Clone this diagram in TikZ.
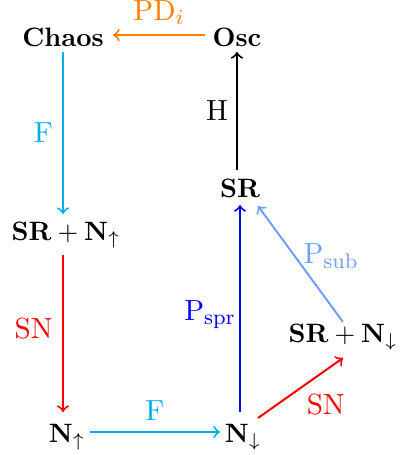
\documentclass[tikz,border=0pt]{standalone}
\usepackage{amsmath}
\usetikzlibrary{positioning}
\definecolor{cyanc}{RGB}{0,174,239}
\definecolor{orangec}{RGB}{255,128,0}
\definecolor{lblue}{RGB}{110,160,255}
\begin{document}
\begin{tikzpicture}[x=0.376pt,y=-0.376pt,
  obj/.style={inner sep=0pt,outer sep=0pt},
  arr/.style={->,line width=0.75pt},
  lab/.style={inner sep=0pt,font=\fontsize{10.95}{13}\selectfont}]
\useasboundingbox (0,0) rectangle (400,455);
\node[obj] (chaos) at (63,37) {$\mathbf{Chaos}$};
\node[obj] (osc) at (237,37) {$\mathbf{Osc}$};
\node[obj] (srnu) at (66,235) {$\mathbf{SR}+\mathbf{N}_\uparrow$};
\node[obj] (nu) at (67,437) {$\mathbf{N}_\uparrow$};
\node[obj] (nd) at (243,437) {$\mathbf{N}_\downarrow$};
\node[obj] (sr) at (240,188) {$\mathbf{SR}$};
\node[obj] (srnd) at (343,337) {$\mathbf{SR}+\mathbf{N}_\downarrow$};
\coordinate (c1s) at (63,52); \coordinate (c1e) at (63,214);
\coordinate (c2s) at (63,255); \coordinate (c2e) at (63,412);
\coordinate (c3s) at (90,432); \coordinate (c3e) at (220,432);
\coordinate (c4s) at (240,412); \coordinate (c4e) at (240,205);
\coordinate (c5s) at (258,418); \coordinate (c5e) at (343,358);
\coordinate (c6s) at (343,322); \coordinate (c6e) at (258,206);
\coordinate (c7s) at (237,170); \coordinate (c7e) at (237,52);
\coordinate (c8s) at (205,35); \coordinate (c8e) at (113,35);
\draw[arr,orangec] (c8s) -- (c8e) node[lab,midway,above=3.5pt] {$\mathrm{PD}_i$};
\draw[arr,cyanc] (c1s) -- (c1e) node[lab,pos=0.5,left=3.4pt] {$\mathrm{F}$};
\draw[arr,red] (c2s) -- (c2e) node[lab,pos=0.47,left=3.5pt] {$\mathrm{SN}$};
\draw[arr,cyanc] (c3s) -- (c3e) node[lab,midway,above=4pt] {$\mathrm{F}$};
\draw[arr,blue] (c4s) -- (c4e) node[lab,pos=0.47,left=1.2pt] {$\mathrm{P_{spr}}$};
\draw[arr,red] (c5s) -- (c5e) node[lab,pos=0.5,anchor=north west,xshift=2pt,yshift=-2pt] {$\mathrm{SN}$};
\draw[arr,lblue] (c6s) -- (c6e) node[lab,pos=0.57,right=3pt] {$\mathrm{P_{sub}}$};
\draw[arr,black] (c7s) -- (c7e) node[lab,midway,left=3pt] {$\mathrm{H}$};
\end{tikzpicture}
\end{document}
